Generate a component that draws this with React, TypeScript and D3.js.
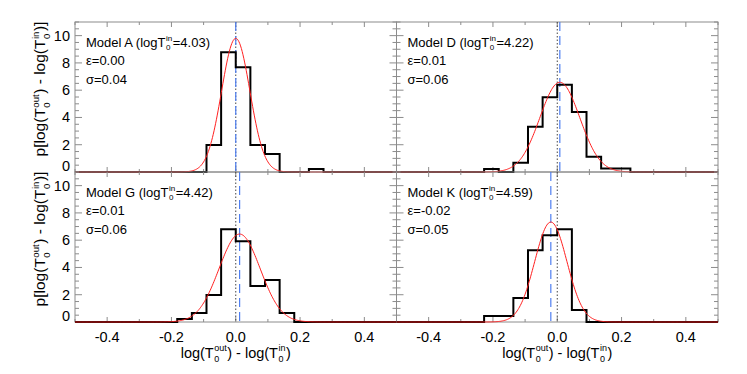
import React, { useRef, useEffect } from 'react';
import * as d3 from 'd3';

// histogram bins: bin k spans [k*binWidth, (k+1)*binWidth], k = -6..5
const binWidth = 0.0455;
const binStart = -6;

const modelNames = ['A', 'D', 'G', 'K'];
const logT0in = ['4.03', '4.22', '4.42', '4.59'];
const epsLabels = ['0.00', '0.01', '0.01', '-0.02'];
const sigmaLabels = ['0.04', '0.06', '0.06', '0.05'];

const histA = [0, 0, 0, 0, 1.98, 8.79, 7.69, 1.98, 1.32, 0, 0, 0.22];
const histD = [0, 0.22, 0, 0.68, 3.32, 5.49, 6.4, 4.4, 1.12, 0.25, 0.25, 0];
const histG = [0, 0, 0.22, 0.66, 1.98, 6.81, 5.93, 2.64, 3.08, 0.66, 0, 0];
const histK = [0, 0.44, 0.44, 1.76, 5.27, 6.37, 6.81, 0.88, 0, 0, 0, 0];
const histograms = [histA, histD, histG, histK];

// gaussian fits: centre (epsilon), width, peak height
const fitCenter = [0.0, 0.008, 0.012, -0.02];
const fitSigma = [0.044, 0.062, 0.064, 0.05];
const fitPeak = [9.8, 6.58, 6.45, 7.33];

const xTicks = [-0.5, -0.4, -0.3, -0.2, -0.1, 0, 0.1, 0.2, 0.3, 0.4, 0.5];
const xTickLabels = ['-0.4', '-0.2', '0.0', '0.2', '0.4'];
const yTicksMajor = [0, 2, 4, 6, 8, 10];

const FONT = '"Liberation Sans", Arial, Helvetica, sans-serif';

type Part = string | { sup: string; sub: string };

function rich(parent: any, parts: Part[], size: number, x: number, y: number, anchor: string, rotate = 0) {
  const outer = parent.append('g').attr('transform', `translate(${x},${y}) rotate(${rotate})`);
  const g = outer.append('g');
  let cx = 0;
  parts.forEach(p => {
    if (typeof p === 'string') {
      const t = g.append('text').attr('x', cx).attr('font-size', size).style('white-space', 'pre').text(p);
      cx += t.node().getComputedTextLength();
    } else {
      const s = g.append('text').attr('x', cx + 0.5).attr('y', -size * 0.42)
        .attr('font-size', size * 0.62).text(p.sup);
      const b = g.append('text').attr('x', cx + 0.5).attr('y', size * 0.3)
        .attr('font-size', size * 0.62).text(p.sub);
      cx += Math.max(s.node().getComputedTextLength(), b.node().getComputedTextLength()) + 1;
    }
  });
  if (anchor === 'middle') g.attr('transform', `translate(${-cx / 2},0)`);
}

function App() {
  const svgRef = useRef<SVGSVGElement>(null);

  useEffect(() => {
    const svg = d3.select(svgRef.current);
    svg.selectAll('*').remove();
    svg.attr('font-family', FONT);

    const left = 75, pw = 321.5, top = 22, ph = 150;
    const frameColor = '#8c8c8c';

    modelNames.forEach((name, i) => {
      const col = i % 2, row = Math.floor(i / 2);
      const x0 = left + col * pw, y0 = top + row * ph;
      const x = d3.scaleLinear().domain([-0.5, 0.5]).range([x0, x0 + pw]);
      const y = d3.scaleLinear().domain([0, 11]).range([y0 + ph, y0]);
      const g = svg.append('g');

      // frame
      g.append('rect').attr('x', x0).attr('y', y0).attr('width', pw).attr('height', ph)
        .attr('fill', 'none').attr('stroke', frameColor).attr('stroke-width', 1);

      // x ticks (top and bottom, inward)
      xTicks.forEach(t => {
        const major = Math.abs(Math.round(t * 10)) % 2 === 0;
        const len = major ? 5 : 3;
        g.append('line').attr('x1', x(t)).attr('x2', x(t))
          .attr('y1', y(0)).attr('y2', y(0) - len).attr('stroke', frameColor);
        g.append('line').attr('x1', x(t)).attr('x2', x(t))
          .attr('y1', y(11)).attr('y2', y(11) + len).attr('stroke', frameColor);
      });
      // y ticks (left and right, inward)
      d3.range(0, 11.01, 0.5).forEach(t => {
        const len = t % 2 === 0 ? 7 : 4;
        g.append('line').attr('x1', x0).attr('x2', x0 + len)
          .attr('y1', y(t)).attr('y2', y(t)).attr('stroke', frameColor);
        g.append('line').attr('x1', x0 + pw).attr('x2', x0 + pw - len)
          .attr('y1', y(t)).attr('y2', y(t)).attr('stroke', frameColor);
      });

      // y tick labels on left column
      if (col === 0) {
        yTicksMajor.forEach(t => {
          g.append('text').attr('x', x0 - 5).attr('y', y(t) + 5 - (t === 0 ? 6 : 0))
            .attr('text-anchor', 'end').attr('font-size', 14.5).text(String(t));
        });
        rich(g, ['p[log(T', { sup: 'out', sub: '0' }, ') - log(T', { sup: 'in', sub: '0' }, ')]'],
          15.5, 45, y0 + ph / 2 - 8, 'middle', -90);
      }
      // x tick labels on bottom row
      if (row === 1) {
        xTickLabels.forEach(l => {
          g.append('text').attr('x', x(+l)).attr('y', y0 + ph + 19.5)
            .attr('text-anchor', 'middle').attr('font-size', 14.5).text(l);
        });
        rich(g, ['log(T', { sup: 'out', sub: '0' }, ') - log(T', { sup: 'in', sub: '0' }, ')'],
          14.5, x(0), y0 + ph + 35.5, 'middle');
      }

      // reference lines
      g.append('line').attr('x1', x(0)).attr('x2', x(0)).attr('y1', y0).attr('y2', y0 + ph)
        .attr('stroke', '#444').attr('stroke-width', 1).attr('stroke-dasharray', '1.5,2');
      g.append('line').attr('x1', x(fitCenter[i])).attr('x2', x(fitCenter[i]))
        .attr('y1', y0).attr('y2', y0 + ph)
        .attr('stroke', '#4f7ff0').attr('stroke-width', 1.2).attr('stroke-dasharray', '9,5');

      // histogram
      const hist = histograms[i];
      const pts: [number, number][] = [[-0.5, 0]];
      hist.forEach((v, k) => pts.push([(binStart + k) * binWidth, v]));
      pts.push([(binStart + hist.length) * binWidth, 0]);
      pts.push([0.5, 0]);
      g.append('path')
        .attr('d', d3.line<[number, number]>().x(d => x(d[0])).y(d => y(d[1])).curve(d3.curveStepAfter)(pts))
        .attr('fill', 'none').attr('stroke', '#000').attr('stroke-width', 2);

      // gaussian fit
      const mu = fitCenter[i], sg = fitSigma[i], pk = fitPeak[i];
      const gx = d3.range(-0.5, 0.5001, 0.0025);
      g.append('path')
        .attr('d', d3.line<number>().x(d => x(d)).y(d => y(pk * Math.exp(-0.5 * ((d - mu) / sg) ** 2)))(gx))
        .attr('fill', 'none').attr('stroke', '#ff2020').attr('stroke-width', 1);

      // annotations
      const tx = x0 + 11, ty = y0 + 24.5;
      rich(g, [`Model ${name} (logT`, { sup: 'in', sub: '0' }, `=${logT0in[i]})`], 13, tx, ty, 'start');
      g.append('text').attr('x', tx).attr('y', ty + 18.5).attr('font-size', 13).text(`ε=${epsLabels[i]}`);
      g.append('text').attr('x', tx).attr('y', ty + 37).attr('font-size', 13).text(`σ=${sigmaLabels[i]}`);
    });
  }, []);

  return (
    <svg ref={svgRef} width={747} height={374} style={{ position: 'absolute', left: 0, top: 0, background: '#fff' }} />
  );
}

export default App;
